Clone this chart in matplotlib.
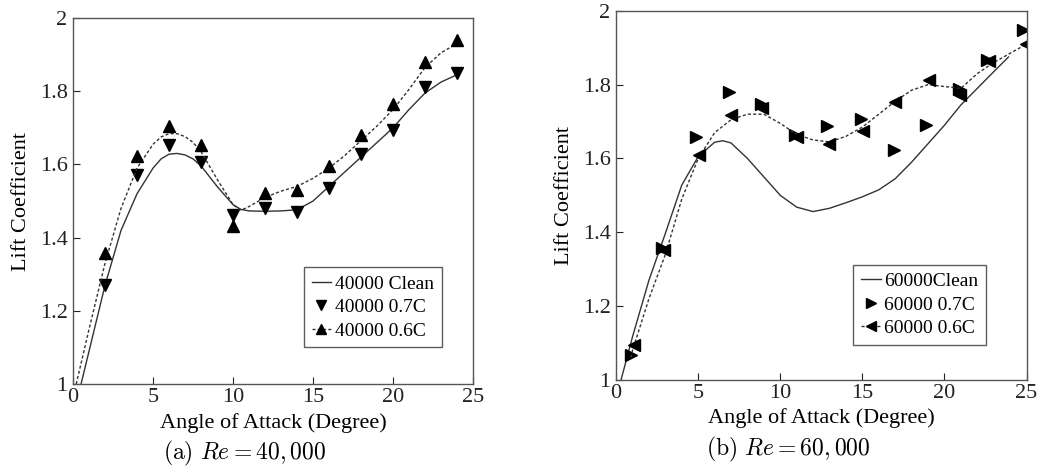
import matplotlib
matplotlib.use("Agg")
import matplotlib.pyplot as plt

plt.rcParams['font.family'] = ['Liberation Serif', 'DejaVu Serif']
plt.rcParams['mathtext.fontset'] = 'cm'

# (a) Re = 40,000
a_x = [2, 4, 6, 8, 10, 12, 14, 16, 18, 20, 22, 24]
a_07c = [1.27, 1.57, 1.652, 1.606, 1.462, 1.48, 1.471, 1.535, 1.629, 1.693, 1.811, 1.85]
a_06c = [1.357, 1.622, 1.704, 1.654, 1.432, 1.523, 1.531, 1.597, 1.681, 1.765, 1.881, 1.939]
a_clean_x = [0.5, 1, 2, 3, 4, 5, 5.5, 6, 6.5, 7, 7.5, 8, 9, 10, 10.5, 11, 12, 13, 14, 15, 16, 17, 18, 19, 20, 21, 22, 23, 24]
a_clean_y = [1.0, 1.09, 1.27, 1.42, 1.52, 1.59, 1.615, 1.628, 1.63, 1.626, 1.615, 1.596, 1.54, 1.49, 1.477, 1.473, 1.472, 1.473, 1.476, 1.5, 1.54, 1.58, 1.62, 1.66, 1.70, 1.75, 1.795, 1.825, 1.845]
a_fit_x = [0.2, 1, 2, 3, 4, 5, 5.5, 6, 6.5, 7, 7.5, 8, 9, 10, 10.5, 11, 12, 13, 14, 15, 16, 17, 18, 19, 20, 21, 22, 23, 24]
a_fit_y = [1.0, 1.15, 1.33, 1.48, 1.59, 1.655, 1.675, 1.684, 1.684, 1.676, 1.66, 1.635, 1.56, 1.49, 1.475, 1.485, 1.51, 1.527, 1.54, 1.562, 1.59, 1.625, 1.665, 1.705, 1.75, 1.805, 1.865, 1.905, 1.93]

# (b) Re = 60,000
b_x07 = [0.9, 2.8, 4.87, 6.86, 8.83, 10.9, 12.86, 14.9, 16.9, 18.9, 20.9, 22.6, 24.8]
b_07c = [1.068, 1.357, 1.657, 1.781, 1.747, 1.663, 1.688, 1.708, 1.623, 1.69, 1.788, 1.866, 1.949]
b_x06 = [1.08, 2.9, 5.04, 6.97, 8.9, 11.0, 12.96, 15.05, 16.96, 19.05, 20.94, 22.7, 24.94]
b_06c = [1.094, 1.352, 1.609, 1.718, 1.736, 1.659, 1.639, 1.675, 1.754, 1.814, 1.772, 1.865, 1.91]
b_clean_x = [0.3, 1, 2, 3, 4, 5, 6, 6.5, 7, 8, 9, 10, 11, 12, 13, 14, 15, 16, 17, 18, 19, 20, 21, 22, 23, 23.9]
b_clean_y = [1.0, 1.117, 1.27, 1.397, 1.528, 1.605, 1.644, 1.648, 1.642, 1.6, 1.55, 1.5, 1.468, 1.456, 1.465, 1.48, 1.496, 1.515, 1.545, 1.59, 1.64, 1.69, 1.745, 1.79, 1.835, 1.875]
b_fit_x = [0.9, 1, 2, 3, 4, 5, 6, 7, 8, 9, 10, 11, 12, 13, 14, 15, 16, 17, 18, 19, 20, 21, 22, 23, 24, 25]
b_fit_y = [1.06, 1.08, 1.22, 1.34, 1.49, 1.60, 1.67, 1.705, 1.72, 1.72, 1.695, 1.665, 1.65, 1.645, 1.66, 1.685, 1.72, 1.755, 1.785, 1.80, 1.795, 1.79, 1.83, 1.86, 1.885, 1.91]

line_c = '#333333'
dash = (2.2, 1.6)
fig = plt.figure(figsize=(10.39, 4.73), dpi=100)
ax1 = fig.add_axes([0.0703, 0.188, 0.385, 0.774])
ax2 = fig.add_axes([0.593, 0.197, 0.395, 0.780])

ax1.plot(a_clean_x, a_clean_y, '-', color=line_c, lw=1.0, label='40000 Clean')
ax1.plot(a_x, a_07c, 'v', color='black', ms=9, label='40000 0.7C')
ax1.plot(a_fit_x, a_fit_y, '--', dashes=dash, color=line_c, lw=1.0)
ax1.plot(a_x, a_06c, '^', color='black', ms=9)
ax1.plot([], [], '--^', dashes=dash, color=line_c, mfc='black', mec='black', ms=9, lw=1.0, label='40000 0.6C')

ax2.plot(b_clean_x, b_clean_y, '-', color=line_c, lw=1.0, label='60000Clean')
ax2.plot(b_x07, b_07c, '>', color='black', ms=9, label='60000 0.7C')
ax2.plot(b_fit_x, b_fit_y, '--', dashes=dash, color=line_c, lw=1.0)
ax2.plot(b_x06, b_06c, '<', color='black', ms=9)
ax2.plot([], [], '--<', dashes=dash, color=line_c, mfc='black', mec='black', ms=9, lw=1.0, label='60000 0.6C')

setup = [(ax1, r'$\mathrm{(a)}\ Re = 40,000$', 0.43, (0.922, 0.10)),
         (ax2, r'$\mathrm{(b)}\ Re = 60,000$', 0.42, (0.902, 0.095))]
for ax, cap, lx, anchor in setup:
    ax.set_xlim(0, 25)
    ax.set_ylim(1, 2)
    ax.set_xticks([0, 5, 10, 15, 20, 25])
    ax.set_yticks([1, 1.2, 1.4, 1.6, 1.8, 2])
    ax.set_yticklabels(['1', '1.2', '1.4', '1.6', '1.8', '2'])
    ax.tick_params(direction='in', length=5, width=0.8, labelsize=16, colors='#222222', top=False, right=False)
    ax.tick_params(axis='x', pad=3)
    ax.tick_params(axis='y', pad=4)
    for s in ax.spines.values():
        s.set_color('#555555')
        s.set_linewidth(1.0)
    ax.set_xlabel('Angle of Attack (Degree)', fontsize=16, labelpad=4)
    ax.set_ylabel('Lift Coefficient', fontsize=16, labelpad=6)
    leg = ax.legend(loc='lower right', bbox_to_anchor=anchor, fontsize=14, frameon=True,
                    fancybox=False, edgecolor='#333333', handlelength=1.0, handletextpad=0.2,
                    borderpad=0.4, labelspacing=0.3, markerscale=0.8, borderaxespad=0)
    leg.get_frame().set_linewidth(1.0)
    ax.text(lx, -0.15, cap, transform=ax.transAxes, ha='center', va='top', fontsize=17)

fig.savefig('out.png', dpi=100)
